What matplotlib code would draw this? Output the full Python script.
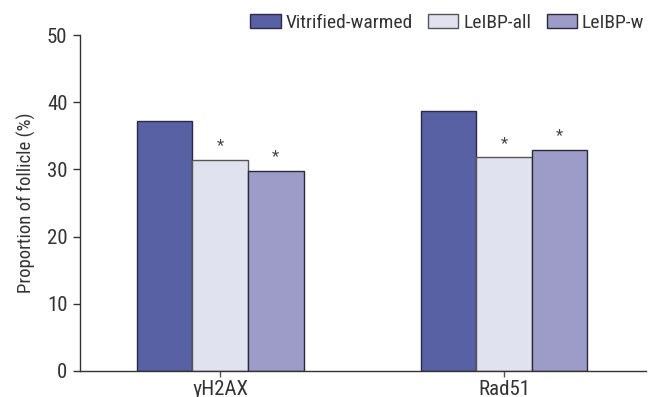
import matplotlib
matplotlib.use("Agg")
import matplotlib.pyplot as plt
from matplotlib import font_manager
import numpy as np

names = {f.name for f in font_manager.fontManager.ttflist}
fams = [f for f in ["Roboto Condensed", "Liberation Sans Narrow", "Roboto", "DejaVu Sans"] if f in names]
plt.rcParams['font.family'] = fams

categories = ["γH2AX", "Rad51"]
series_names = ["Vitrified-warmed", "LeIBP-all", "LeIBP-w"]
vitrified = [37.2, 38.7]
leibp_all = [31.4, 31.8]
leibp_w = [29.8, 32.9]
significant_all = [True, True]
significant_w = [True, True]
yticks = [0, 10, 20, 30, 40, 50]

colors = ["#5761A3", "#E0E2EF", "#9D9CC8"]
edges = ["#2A2A4A", "#555555", "#2A2A3A"]

fig = plt.figure(figsize=(6.49, 3.97), dpi=100)
ax = fig.add_axes([80/649, 26/397, (646-80)/649, (371-35)/397])

x = np.arange(len(categories))
w = 0.196
data = [vitrified, leibp_all, leibp_w]
sig = [None, significant_all, significant_w]
for i, (vals, c, ec, nm) in enumerate(zip(data, colors, edges, series_names)):
    pos = x + (i - 1) * w
    ax.bar(pos, vals, width=w, color=c, edgecolor=ec, linewidth=1.0, label=nm, zorder=2)
    if sig[i] is not None:
        for p, v, s in zip(pos, vals, sig[i]):
            if s:
                ax.text(p, v + 1.0, "*", ha="center", va="bottom", fontsize=12, color="#444444")

ax.set_xlim(-0.493, 1.5)
ax.set_ylim(0, 50)
ax.set_yticks(yticks)
ax.set_xticks(x)
ax.set_xticklabels(categories)
for s in ["top", "right"]:
    ax.spines[s].set_visible(False)
for s in ["left", "bottom"]:
    ax.spines[s].set_color("#333333")
    ax.spines[s].set_linewidth(1.0)
ax.tick_params(axis="y", length=5, width=1, color="#333333", labelsize=15, labelcolor="#333333", pad=4)
ax.tick_params(axis="x", length=4.5, width=1, color="#555555", labelsize=15, labelcolor="#333333", pad=2)
ax.set_ylabel("Proportion of follicle (%)", fontsize=13.5, color="#333333", labelpad=8)

fig.legend(loc="upper right", bbox_to_anchor=(648/649, 1.0 - 0.025), ncol=3, frameon=False,
           fontsize=14, handlelength=1.55, handleheight=0.75, handletextpad=0.25,
           columnspacing=0.8, borderaxespad=0, borderpad=0.2, labelcolor="#333333")

fig.savefig("out.png", dpi=100)
